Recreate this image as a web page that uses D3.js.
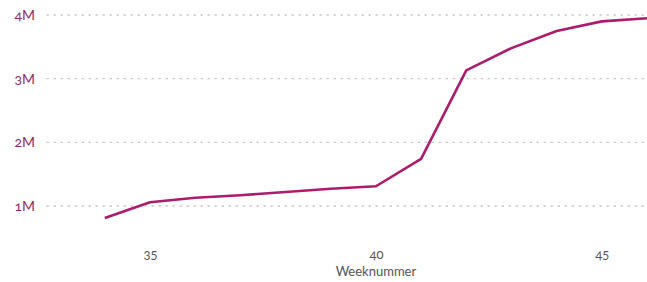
<!DOCTYPE html>
<html><head><meta charset="utf-8">
<script src="https://cdn.jsdelivr.net/npm/d3@7"></script>
<style>
html,body{margin:0;padding:0;background:#fff;}
svg{display:block;}
.num{font-variant-numeric:oldstyle-nums;font-feature-settings:"onum" 1;}
</style></head>
<body><svg id="c" width="647" height="282"></svg>
<script>
const weeks = [34,35,36,37,38,39,40,41,42,43,44,45,46];
const values = [0.81,1.06,1.13,1.17,1.22,1.27,1.31,1.74,3.13,3.48,3.75,3.90,3.95]; // millions
const yTicks = [1,2,3,4];
const yTickLabels = ["1M","2M","3M","4M"];
const xTicks = [35,40,45];
const xTitle = "Weeknummer";

const W = 647, H = 282;
const svg = d3.select("#c");
const x = d3.scaleLinear().domain([34,46]).range([104.8,647]);
const y = d3.scaleLinear().domain([1,4]).range([206,15]);

// grid
const g = svg.append("g");
g.selectAll("line").data(yTicks).join("line")
  .attr("x1",47).attr("x2",W)
  .attr("y1",d=>y(d)).attr("y2",d=>y(d))
  .attr("stroke","#c8c8c8").attr("stroke-width",1.3)
  .attr("stroke-dasharray","1.5,5.5").attr("stroke-linecap","round");

// y labels
svg.append("g").selectAll("text").data(yTicks).join("text")
  .attr("class","num")
  .attr("x",35).attr("y",d=>y(d)).attr("dy","0.35em")
  .attr("text-anchor","end")
  .attr("font-family","Lato, 'Noto Sans', sans-serif").attr("font-size",14)
  .attr("fill","#8f2a6c")
  .text((d,i)=>yTickLabels[i]);

// x axis labels
const xa = svg.append("g").attr("transform","translate(0,254)")
  .call(d3.axisBottom(x).tickValues(xTicks).tickSize(0).tickPadding(0).tickFormat(d3.format("d")));
xa.select(".domain").remove();
xa.selectAll("text").attr("class","num").attr("dy","0.35em").attr("y",0)
  .attr("font-family","Lato, 'Noto Sans', sans-serif").attr("font-size",13).attr("fill","#555");

svg.append("text").attr("x",x(40)).attr("y",271).attr("dy","0.35em")
  .attr("text-anchor","middle").attr("font-family","Lato, 'Noto Sans', sans-serif")
  .attr("font-size",13).attr("fill","#555").text(xTitle);

// line
const line = d3.line().x((d,i)=>x(weeks[i])).y(d=>y(d));
svg.append("path").datum(values).attr("d",line)
  .attr("fill","none").attr("stroke","#ad1c6c").attr("stroke-width",2.6)
  .attr("stroke-linejoin","round").attr("stroke-linecap","butt");
</script></body></html>
